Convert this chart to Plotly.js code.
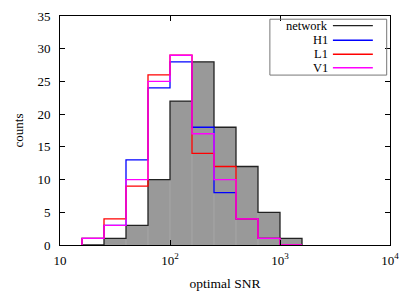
<!DOCTYPE html>
<html>
<head>
<meta charset="utf-8">
<script src="https://cdn.plot.ly/plotly-3.0.1.min.js"></script>
<style>
html,body{margin:0;padding:0;background:#fff;}
#chart{width:415px;height:291px;}
</style>
</head>
<body>
<div id="chart"></div>
<script>
// bin edges in log10(SNR)
const edgesLog = [1.2, 1.4, 1.6, 1.8, 2.0, 2.2, 2.4, 2.6, 2.8, 3.0, 3.2];
const networkCounts = [0, 1, 3, 10, 22, 28, 18, 12, 5, 1];
const h1Counts = [1, 3, 13, 24, 28, 18, 8, 4, 1, 0];
const l1Counts = [1, 4, 9, 26, 29, 14, 12, 4, 1, 0];
const v1Counts = [1, 3, 10, 25, 29, 17, 10, 4, 1, 0];
const seriesNames = ['network', 'H1', 'L1', 'V1'];
const seriesColors = ['#222222', '#0000ff', '#ff0000', '#ff00ff'];
const xTickVals = [10, 100, 1000, 10000];
const xTickText = ['10', '10<sup>2</sup>', '10<sup>3</sup>', '10<sup>4</sup>'];

const edges = edgesLog.map(e => Math.pow(10, e));

function stepXY(counts) {
  const n = counts.length;
  const xs = [edges[0]], ys = [0];
  counts.forEach((c, i) => { xs.push(edges[i]); ys.push(c); });
  xs.push(edges[n]); ys.push(counts[n - 1]);
  xs.push(edges[n]); ys.push(0);
  return {xs, ys};
}

const font = 'Liberation Serif, Times New Roman, serif';
const traces = [];

// network filled histogram
const net = stepXY(networkCounts);
traces.push({
  x: net.xs, y: net.ys, type: 'scatter', mode: 'lines',
  line: {shape: 'hv', width: 0, color: 'rgba(0,0,0,0)'},
  fill: 'tozeroy', fillcolor: '#999999', hoverinfo: 'skip', showlegend: false
});
// faint internal box borders
const ix = [], iy = [];
for (let i = 1; i < networkCounts.length; i++) {
  const h = Math.min(networkCounts[i - 1], networkCounts[i]);
  if (h > 0) { ix.push(edges[i], edges[i], null); iy.push(0, h, null); }
}
traces.push({
  x: ix, y: iy, type: 'scatter', mode: 'lines',
  line: {width: 1, color: '#a6a6a6'}, hoverinfo: 'skip', showlegend: false
});

const allCounts = [networkCounts, h1Counts, l1Counts, v1Counts];
allCounts.forEach((counts, k) => {
  const s = stepXY(counts);
  traces.push({
    x: s.xs, y: s.ys, type: 'scatter', mode: 'lines', name: seriesNames[k],
    line: {shape: 'hv', width: 1.3, color: seriesColors[k]},
    showlegend: false
  });
});

// manual legend (gnuplot style: text then line sample)
const shapes = [{
  type: 'rect', xref: 'paper', yref: 'paper',
  x0: 0.636, x1: 0.990, y0: 0.742, y1: 0.986,
  line: {color: '#777777', width: 1}, fillcolor: 'rgba(0,0,0,0)'
}];
const annotations = [];
const rowY = [0.958, 0.894, 0.833, 0.774];
seriesNames.forEach((nm, k) => {
  shapes.push({
    type: 'line', xref: 'paper', yref: 'paper',
    x0: 0.827, x1: 0.948, y0: rowY[k], y1: rowY[k],
    line: {color: seriesColors[k], width: 1.3}
  });
  annotations.push({
    xref: 'paper', yref: 'paper', x: 0.818, y: rowY[k],
    xanchor: 'right', yanchor: 'middle', text: nm, showarrow: false,
    font: {family: font, size: 12.5, color: '#000'}
  });
});

const layout = {
  width: 415, height: 291,
  margin: {l: 60, r: 25, t: 16, b: 46, pad: 0},
  paper_bgcolor: '#ffffff', plot_bgcolor: '#ffffff',
  font: {family: font, size: 13, color: '#000'},
  showlegend: false,
  xaxis: {
    type: 'log', range: [1, 4], tickvals: xTickVals, ticktext: xTickText,
    ticks: 'inside', ticklen: 5, tickcolor: '#000', mirror: 'ticks',
    showline: true, linecolor: '#000', linewidth: 1,
    showgrid: false, zeroline: false, automargin: false,
    ticklabelstandoff: 3,
    title: {text: 'optimal SNR', font: {family: font, size: 13.5}, standoff: 12},
    tickfont: {family: font, size: 13}
  },
  yaxis: {
    range: [0, 35], dtick: 5, tick0: 0,
    ticks: 'inside', ticklen: 5, tickcolor: '#000', mirror: 'ticks',
    showline: true, linecolor: '#000', linewidth: 1,
    showgrid: false, zeroline: false, automargin: false,
    ticklabelstandoff: 6,
    title: {text: 'counts', font: {family: font, size: 13}, standoff: 10},
    tickfont: {family: font, size: 13}
  },
  shapes: shapes,
  annotations: annotations
};

Plotly.newPlot('chart', traces, layout, {displayModeBar: false, staticPlot: true});
</script>
</body>
</html>
